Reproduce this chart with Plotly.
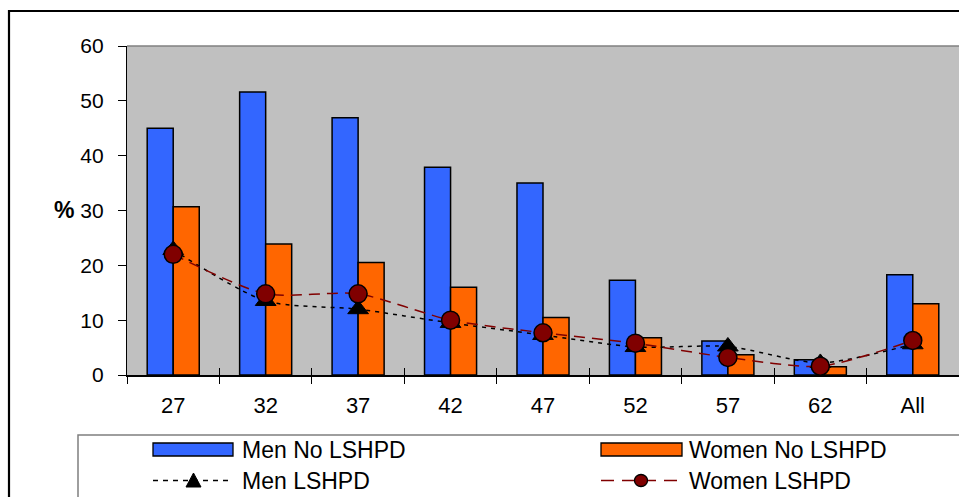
import plotly.graph_objects as go

# Age groups and series (percent)
categories = ["27", "32", "37", "42", "47", "52", "57", "62", "All"]
men_no_lshpd = [45.0, 51.6, 46.9, 37.9, 35.0, 17.3, 6.2, 2.8, 18.3]
women_no_lshpd = [30.7, 23.9, 20.5, 16.0, 10.5, 6.8, 3.7, 1.5, 13.0]
men_lshpd = [22.8, 13.5, 12.0, 9.5, 7.3, 5.1, 5.2, 2.2, 5.6]
women_lshpd = [22.0, 14.8, 14.8, 10.0, 7.7, 5.8, 3.2, 1.6, 6.3]
y_ticks = [0, 10, 20, 30, 40, 50, 60]

BLUE = "#3366FF"
ORANGE = "#FF6600"
DARK_RED = "#800000"
PLOT_BG = "#C0C0C0"
FONT = "Liberation Sans, Arial, sans-serif"

# page geometry (pixels)
WIDTH, HEIGHT = 959, 497
L, R, T, B = 127, 959, 46, 375
W, H = R - L, B - T


def px(x):
    return (x - L) / W


def py(y):
    return (B - y) / H


fig = go.Figure()

fig.add_trace(go.Bar(
    x=categories, y=men_no_lshpd, name="Men No LSHPD",
    marker=dict(color=BLUE, line=dict(color="black", width=1.5)),
))
fig.add_trace(go.Bar(
    x=categories, y=women_no_lshpd, name="Women No LSHPD",
    marker=dict(color=ORANGE, line=dict(color="black", width=1.5)),
))
fig.add_trace(go.Scatter(
    x=categories, y=men_lshpd, name="Men LSHPD", mode="lines+markers",
    line=dict(color="black", width=1.5, dash="4px,5px", shape="spline", smoothing=0.7),
    marker=dict(symbol="triangle-up", size=18, color="black",
                line=dict(color="black", width=1)),
))
fig.add_trace(go.Scatter(
    x=categories, y=women_lshpd, name="Women LSHPD", mode="lines+markers",
    line=dict(color=DARK_RED, width=1.5, dash="11px,7px", shape="spline", smoothing=0.7),
    marker=dict(symbol="circle", size=18, color=DARK_RED,
                line=dict(color="black", width=1.5)),
))
# helper trace so the overlay axis (inner half of the cross ticks) knows the categories
fig.add_trace(go.Scatter(
    x=categories, y=[None] * len(categories), xaxis="x2", mode="markers",
    marker=dict(opacity=0), hoverinfo="skip", showlegend=False,
))

shapes = []
annotations = []

# outer chart frame
shapes.append(dict(type="rect", xref="paper", yref="paper",
                   x0=px(9), x1=px(975), y0=py(11), y1=py(520),
                   line=dict(color="black", width=2.2), layer="below"))
# plot-area top edge
shapes.append(dict(type="line", xref="paper", yref="paper",
                   x0=0, x1=1, y0=1, y1=1,
                   line=dict(color="#808080", width=1.5)))

# legend frame
shapes.append(dict(type="rect", xref="paper", yref="paper",
                   x0=px(78), x1=px(975), y0=py(435), y1=py(520),
                   line=dict(color="#7f7f7f", width=1.5)))

row1, row2 = 449.5, 480.5
# bar keys
shapes.append(dict(type="rect", xref="paper", yref="paper",
                   x0=px(153), x1=px(233), y0=py(443), y1=py(456),
                   fillcolor=BLUE, line=dict(color="black", width=1.3)))
shapes.append(dict(type="rect", xref="paper", yref="paper",
                   x0=px(601), x1=px(682), y0=py(443), y1=py(456),
                   fillcolor=ORANGE, line=dict(color="black", width=1.3)))
# line keys
shapes.append(dict(type="line", xref="paper", yref="paper",
                   x0=px(153), x1=px(231), y0=py(row2), y1=py(row2),
                   line=dict(color="black", width=1.5, dash="5px,5px")))
shapes.append(dict(type="line", xref="paper", yref="paper",
                   x0=px(601), x1=px(682), y0=py(row2), y1=py(row2),
                   line=dict(color=DARK_RED, width=1.5, dash="13px,8px")))
# triangle key
tx, ty = 193.5, row2
tri = "M {},{} L {},{} L {},{} Z".format(
    px(tx - 7.5), py(ty + 6.5), px(tx + 7.5), py(ty + 6.5), px(tx), py(ty - 7.5))
shapes.append(dict(type="path", xref="paper", yref="paper", path=tri,
                   fillcolor="black", line=dict(color="black", width=1)))
# circle key
cx, cy = 641, row2
shapes.append(dict(type="circle", xref="paper", yref="paper",
                   x0=px(cx - 6.5), x1=px(cx + 6.5), y0=py(cy - 6), y1=py(cy + 6),
                   fillcolor=DARK_RED, line=dict(color="black", width=1.3)))

legend_items = [
    ("Men No LSHPD", 240, row1),
    ("Women No LSHPD", 687, row1),
    ("Men LSHPD", 240, row2),
    ("Women LSHPD", 687, row2),
]
for text, x, y in legend_items:
    annotations.append(dict(text=text, xref="paper", yref="paper",
                            x=px(x), y=py(y), xanchor="left", yanchor="middle",
                            showarrow=False,
                            font=dict(family=FONT, size=23, color="black")))

# y-axis unit label
annotations.append(dict(text="<b>%</b>", xref="paper", yref="paper",
                        x=px(76), y=py(210), xanchor="right", yanchor="middle",
                        showarrow=False,
                        font=dict(family=FONT, size=23, color="black")))

fig.update_layout(
    width=WIDTH, height=HEIGHT,
    margin=dict(l=L, r=WIDTH - R, t=T, b=HEIGHT - B, pad=0),
    paper_bgcolor="white",
    plot_bgcolor=PLOT_BG,
    barmode="group",
    bargap=0.437,
    bargroupgap=0,
    showlegend=False,
    font=dict(family=FONT, color="black"),
    shapes=shapes,
    annotations=annotations,
    xaxis=dict(
        type="category", categoryorder="array", categoryarray=categories,
        range=[-0.5, len(categories) - 0.5],
        tickson="boundaries", ticks="outside", ticklen=7, tickwidth=1,
        tickcolor="black",
        showline=True, linecolor="black", linewidth=1.5,
        showgrid=False, zeroline=False,
        tickfont=dict(family=FONT, size=22, color="black"),
        ticklabelstandoff=10,
    ),
    xaxis2=dict(
        type="category", categoryorder="array", categoryarray=categories,
        range=[-0.5, len(categories) - 0.5],
        overlaying="x", anchor="y", side="bottom",
        tickson="boundaries", ticks="inside", ticklen=7, tickwidth=1,
        tickcolor="black",
        showticklabels=False, showline=False, showgrid=False, zeroline=False,
    ),
    yaxis=dict(
        range=[0, 60], tickmode="array", tickvals=y_ticks,
        ticks="outside", ticklen=8, tickwidth=1, tickcolor="black",
        showline=True, linecolor="black", linewidth=1.2,
        showgrid=False, zeroline=False,
        tickfont=dict(family=FONT, size=21, color="black"),
        ticklabelstandoff=10,
    ),
)

fig.write_html("out.html")
